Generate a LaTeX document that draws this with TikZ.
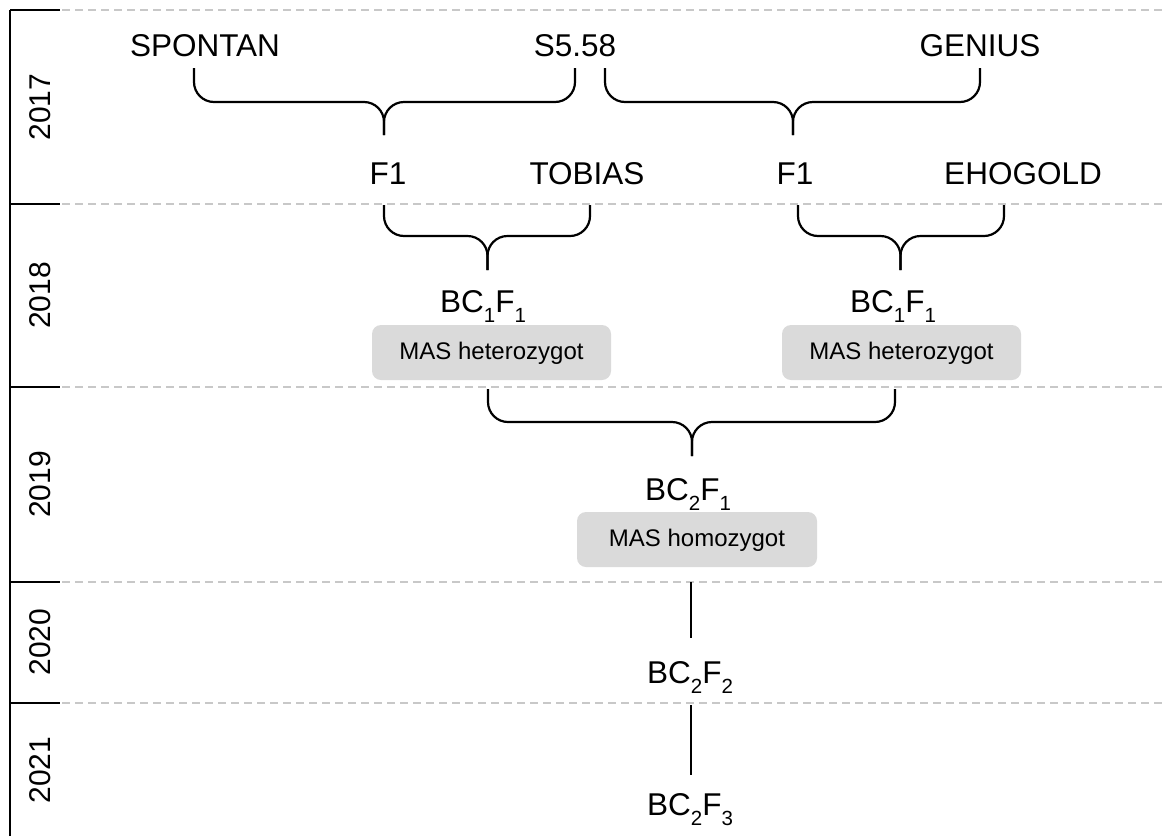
\documentclass[tikz,border=0pt]{standalone}
\usepackage{fontspec}
\setmainfont{Liberation Sans}
\definecolor{dashgray}{HTML}{C8C8C8}
\definecolor{boxgray}{HTML}{DADADA}
\newcommand\sbs[1]{\raisebox{-10.5pt}{\fontsize{20.5}{20.5}\selectfont #1}}
\newcommand\mybrace[6]{%
  \draw[brc] (#1,#4) -- (#1,#5) -- (#3,#5) -- (#3,#6);
  \draw[brc] (#2,#4) -- (#2,#5) -- (#3,#5) -- (#3,#6);}
\begin{document}
\begin{tikzpicture}[x=1pt,y=-1pt,
  lbl/.style={font=\fontsize{31.5}{36}\selectfont, anchor=base, inner sep=0pt},
  yr/.style={font=\fontsize{30}{34}\selectfont, rotate=90, inner sep=0pt},
  masbox/.style={fill=boxgray, rounded corners=9pt, draw=none, inner sep=0pt,
     font=\fontsize{24}{28}\selectfont, text height=17pt, text depth=4pt},
  brc/.style={line width=2.2pt, rounded corners=20pt},
  stem/.style={line width=2.2pt},
  gridline/.style={dashgray, line width=1.4pt, dash pattern=on 8pt off 5pt},
  axisline/.style={line width=2.6pt}]
\useasboundingbox (0,0) rectangle (1167,836);

% axis and year bands
\coordinate (a0) at (10,10);
\coordinate (a1) at (10,204);
\coordinate (a2) at (10,387);
\coordinate (a3) at (10,582);
\coordinate (a4) at (10,703);
\coordinate (aend) at (10,836);
\draw[axisline] (aend) -- (a0);
\foreach \c in {a0,a1,a2,a3,a4}{
  \draw[axisline] (\c) -- ++(50,0);
  \draw[gridline] ([xshift=52pt]\c) -- ++(1105,0);
}
\node[yr] (y2017) at (40,107) {2017};
\node[yr] (y2018) at (40,295.5) {2018};
\node[yr] (y2019) at (40,484.5) {2019};
\node[yr] (y2020) at (40,642) {2020};
\node[yr] (y2021) at (40,770) {2021};

% labels
\node[lbl] (spontan) at (205,56) {SPONTAN};
\node[lbl] (s558) at (575,56) {S5.58};
\node[lbl] (genius) at (980,56) {GENIUS};
\node[lbl] (f1a) at (388,184) {F1};
\node[lbl] (tobias) at (587,184) {TOBIAS};
\node[lbl] (f1b) at (795,184) {F1};
\node[lbl] (ehogold) at (1023,184) {EHOGOLD};
\node[lbl] (bca) at (483,312) {BC\sbs{1}F\sbs{1}};
\node[lbl] (bcb) at (893,312) {BC\sbs{1}F\sbs{1}};
\node[lbl] (bc2f1) at (688,500) {BC\sbs{2}F\sbs{1}};
\node[lbl] (bc2f2) at (690,683) {BC\sbs{2}F\sbs{2}};
\node[lbl] (bc2f3) at (690,815) {BC\sbs{2}F\sbs{3}};

% MAS boxes
\node[masbox, minimum width=239pt, minimum height=55pt] (masa) at (491.5,352.5) {MAS heterozygot};
\node[masbox, minimum width=239pt, minimum height=55pt] (masb) at (901.5,352.5) {MAS heterozygot};
\node[masbox, minimum width=240pt, minimum height=55pt] (mash) at (697,539.5) {MAS homozygot};

% braces
\mybrace{194}{575}{384}{68}{102}{135}
\mybrace{605}{980}{793}{68}{102}{135}
\mybrace{384}{590}{487.5}{205}{236}{270}
\mybrace{798}{1004}{900.5}{205}{236}{270}
\mybrace{488}{895}{692}{389}{422}{456}

% stems
\coordinate (s1a) at (691,582);
\coordinate (s1b) at (691,638);
\coordinate (s2a) at (691,705);
\coordinate (s2b) at (691,775);
\draw[stem] (s1a) -- (s1b);
\draw[stem] (s2a) -- (s2b);
\end{tikzpicture}
\end{document}
